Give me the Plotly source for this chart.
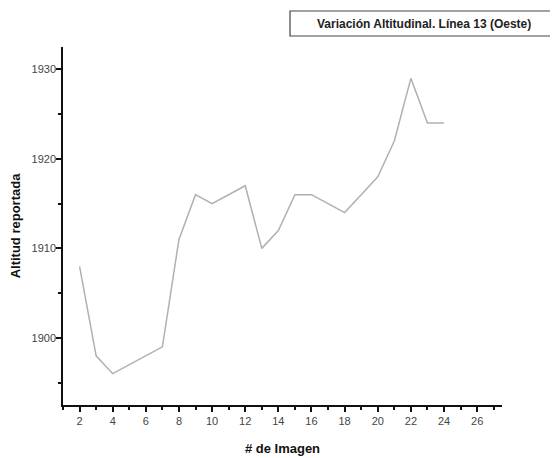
import plotly.graph_objects as go

imagen = [2, 3, 4, 5, 6, 7, 8, 9, 10, 11, 12, 13, 14, 15, 16, 17, 18, 19, 20, 21, 22, 23, 24]
altitud = [1908, 1898, 1896, 1897, 1898, 1899, 1911, 1916, 1915, 1916, 1917, 1910, 1912,
           1916, 1916, 1915, 1914, 1916, 1918, 1922, 1929, 1924, 1924]
x_ticks = [2, 4, 6, 8, 10, 12, 14, 16, 18, 20, 22, 24, 26]
y_ticks = [1900, 1910, 1920, 1930]

title_text = "Variación Altitudinal. Línea 13 (Oeste)"
narrow = "Liberation Sans Narrow, Arial Narrow, Arial, sans-serif"

OFF = 8  # default page body margin
FW, FH = 558 - OFF, 458 - OFF
# plot area in reference pixels
L, R, T, B = 63, 502, 47, 405
W, H = R - L, B - T

def px(xp):
    return (xp - L) / W

def py(yp):
    return (B - yp) / H

fig = go.Figure()
fig.add_trace(go.Scatter(x=imagen, y=altitud, mode="lines",
                         line=dict(color="#b0b0b0", width=1.5), showlegend=False))

axis_common = dict(showgrid=False, zeroline=False, showline=True, linecolor="#111",
                   linewidth=1.5, ticks="outside", ticklen=5, tickwidth=1.5, tickcolor="#111",
                   automargin=False,
                   tickfont=dict(family=narrow, size=11, color="#444444"))

fig.update_xaxes(range=[1, 27.5], tickvals=x_ticks, ticktext=[str(v) for v in x_ticks],
                 minor=dict(dtick=1, tick0=1, ticks="outside", ticklen=3, tickcolor="#111", tickwidth=1.5),
                 title=dict(text="<b># de Imagen</b>", font=dict(family=narrow, size=13, color="#111"), standoff=18),
                 **axis_common)
fig.update_yaxes(range=[1892.5, 1932.5], tickvals=y_ticks, ticktext=[str(v) for v in y_ticks],
                 minor=dict(dtick=5, tick0=1895, ticks="outside", ticklen=3, tickcolor="#111", tickwidth=1.5),
                 ticklabelstandoff=-2,
                 title=dict(text="<b>Altitud reportada</b>", font=dict(family="Liberation Sans, Arial, sans-serif", size=13, color="#111"), standoff=10),
                 **axis_common)

fig.add_annotation(xref="paper", yref="paper", x=px(424), y=py(23.5),
                   xanchor="center", yanchor="middle",
                   text="<b>" + title_text + "</b>", showarrow=False,
                   font=dict(family=narrow, size=12, color="#222"))
fig.add_shape(type="rect", xref="paper", yref="paper",
              x0=px(290), x1=px(555), y0=py(36), y1=py(11),
              line=dict(color="#444", width=1.2), fillcolor="rgba(0,0,0,0)")

fig.update_layout(width=FW, height=FH,
                  margin=dict(l=L - OFF, r=558 - R, t=T - OFF, b=458 - B),
                  plot_bgcolor="white", paper_bgcolor="white")
fig.write_html("out.html")
